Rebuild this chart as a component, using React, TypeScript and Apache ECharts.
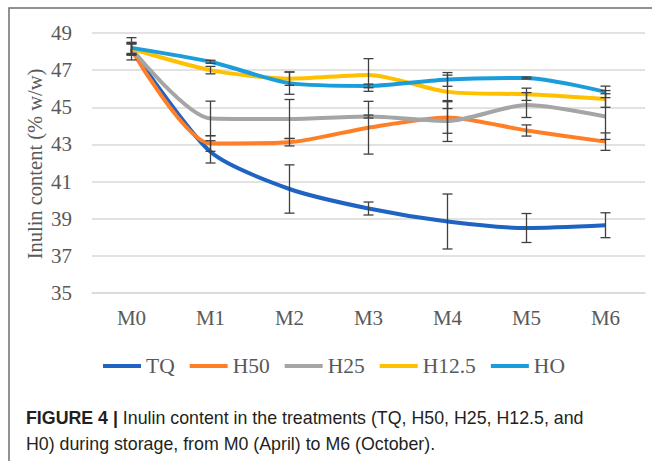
import React, { useEffect, useRef } from "react";
import * as echarts from "echarts";

const categories = ["M0", "M1", "M2", "M3", "M4", "M5", "M6"];
const yTicks = [35, 37, 39, 41, 43, 45, 47, 49];

const seriesNames = ["TQ", "H50", "H25", "H12.5", "HO"];
const TQ = [48.15, 42.6, 40.6, 39.55, 38.85, 38.5, 38.65];
const H50 = [48.1, 43.05, 43.12, 43.9, 44.45, 43.75, 43.15];
const H25 = [48.15, 44.4, 44.37, 44.5, 44.26, 45.12, 44.5];
const H12_5 = [48.15, 47.0, 46.54, 46.74, 45.83, 45.7, 45.45];
const HO = [48.2, 47.45, 46.3, 46.15, 46.5, 46.58, 45.83];

const TQ_err = [0.6, 0.6, 1.3, 0.35, 1.48, 0.78, 0.67];
const H50_err = [0.3, 0.42, 0.2, 1.42, 0.85, 0.3, 0.47];
const H25_err = [0.3, 0.93, 1.05, 0.08, 1.1, 0.67, 1.23];
const H12_5_err = [0.3, 0.2, 0.36, 0.88, 0.9, 0.33, 0.45];
const HO_err = [0.3, 0.08, 0.6, 0.1, 0.37, 0.05, 0.31];

const colors = ["#1F63C3", "#FF7F27", "#A5A5A5", "#FFC000", "#1B9DDB"];

const yTitle = "Inulin content (% w/w)";
const captionBold = "FIGURE 4 |";
const captionLine1 = " Inulin content in the treatments (TQ, H50, H25, H12.5, and";
const captionLine2 = "H0) during storage, from M0 (April) to M6 (October).";

export default function App() {
  const ref = useRef<HTMLDivElement>(null);
  useEffect(() => {
    if (!ref.current) return;
    const chart = echarts.init(ref.current, undefined, { renderer: "svg" });
    const values = [TQ, H50, H25, H12_5, HO];
    const errs = [TQ_err, H50_err, H25_err, H12_5_err, HO_err];
    const errData: number[][] = [];
    values.forEach((arr, s) => {
      arr.forEach((v, i) => {
        errData.push([i, v - errs[s][i], v + errs[s][i]]);
      });
    });
    const serif = "'Liberation Serif', 'Times New Roman', serif";
    const sans = "'Liberation Sans', Arial, sans-serif";
    chart.setOption({
      animation: false,
      color: colors,
      grid: { left: 92, right: 7, top: 33, bottom: 168 },
      legend: {
        data: seriesNames,
        left: 98,
        top: 350,
        itemWidth: 38,
        itemHeight: 4,
        itemGap: 15,
        icon: "rect",
        textStyle: { fontFamily: serif, fontSize: 21.5, color: "#595959" },
      },
      xAxis: {
        type: "category",
        data: categories,
        boundaryGap: true,
        axisLine: { show: true, lineStyle: { color: "#D9D9D9", width: 1.5 } },
        axisTick: { show: false },
        axisLabel: { fontFamily: serif, fontSize: 21, color: "#595959", margin: 14 },
      },
      yAxis: {
        type: "value",
        min: yTicks[0],
        max: yTicks[yTicks.length - 1],
        interval: 2,
        axisLine: { show: false },
        axisTick: { show: false },
        splitLine: { lineStyle: { color: "#D9D9D9", width: 1.5 } },
        axisLabel: { fontFamily: serif, fontSize: 21, color: "#595959", margin: 20 },
      },
      graphic: [
        {
          type: "rect",
          shape: { x: 9, y: 8, width: 700, height: 500 },
          style: { fill: "none", stroke: "#6E6E6E", lineWidth: 1.5 },
          silent: true,
        },
        {
          type: "text",
          x: 35,
          y: 164,
          rotation: Math.PI / 2,
          style: {
            text: yTitle,
            fontFamily: serif,
            fontSize: 20.5,
            fill: "#595959",
            align: "center",
            verticalAlign: "middle",
          },
        },
        {
          type: "text",
          x: 26,
          y: 418,
          style: {
            text: "{b|" + captionBold + "}" + captionLine1,
            fontFamily: sans,
            fontSize: 17.8,
            fill: "#231F20",
            verticalAlign: "middle",
            rich: {
              b: {
                fontFamily: sans,
                fontSize: 17.8,
                fontWeight: "bold",
                fill: "#231F20",
              },
            },
          },
        },
        {
          type: "text",
          x: 26,
          y: 444,
          style: {
            text: captionLine2,
            fontFamily: sans,
            fontSize: 17.8,
            fill: "#231F20",
            verticalAlign: "middle",
          },
        },
      ],
      series: [
        ...values.map((arr, s) => ({
          name: seriesNames[s],
          type: "line",
          data: arr,
          smooth: 0.25,
          showSymbol: false,
          symbol: "none",
          lineStyle: { width: 4, color: colors[s] },
          itemStyle: { color: colors[s] },
          z: 2 + s,
        })),
        {
          type: "custom",
          z: 10,
          silent: true,
          data: errData,
          renderItem: (params: any, api: any) => {
            const x = api.value(0);
            const lo = api.coord([x, api.value(1)]);
            const hi = api.coord([x, api.value(2)]);
            const hw = 5;
            const st = { stroke: "#404040", lineWidth: 1.3 };
            return {
              type: "group",
              children: [
                { type: "line", shape: { x1: hi[0], y1: hi[1], x2: lo[0], y2: lo[1] }, style: st },
                { type: "line", shape: { x1: hi[0] - hw, y1: hi[1], x2: hi[0] + hw, y2: hi[1] }, style: st },
                { type: "line", shape: { x1: lo[0] - hw, y1: lo[1], x2: lo[0] + hw, y2: lo[1] }, style: st },
              ],
            };
          },
        },
      ],
    });
    return () => chart.dispose();
  }, []);
  return (
    <div
      ref={ref}
      style={{ position: "fixed", left: 0, top: 0, width: 652, height: 461, background: "#fff" }}
    />
  );
}
